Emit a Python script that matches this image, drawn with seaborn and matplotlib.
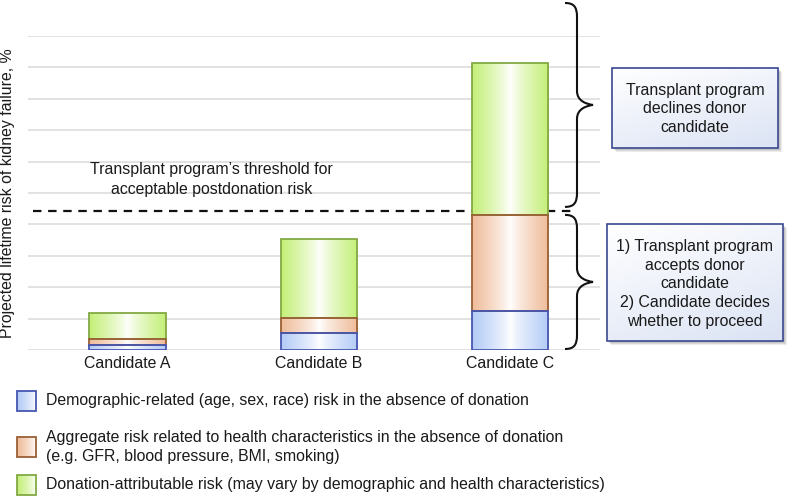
import numpy as np
import pandas as pd
import seaborn as sns
import matplotlib.pyplot as plt
from matplotlib.patches import Rectangle, PathPatch
from matplotlib.path import Path
from matplotlib.colors import to_rgb

# values (1 unit = one grid step)
candidates = ["Candidate A", "Candidate B", "Candidate C"]
demographic_risk = [0.15, 0.53, 1.24]
health_risk = [0.20, 0.48, 3.06]
donation_risk = [0.82, 2.52, 4.83]
threshold = 4.43

segment_labels = [
    "Demographic-related (age, sex, race) risk in the absence of donation",
    "Aggregate risk related to health characteristics in the absence of donation\n"
    "(e.g. GFR, blood pressure, BMI, smoking)",
    "Donation-attributable risk (may vary by demographic and health characteristics)",
]
fill_colors = ["#b3cbf7", "#efbc9a", "#c4ef78"]
edge_colors = ["#4656b0", "#9a5f35", "#84a944"]

ylabel = "Projected lifetime risk of kidney failure, %"
threshold_label = "Transplant program\u2019s threshold for\nacceptable postdonation risk"
decline_text = "Transplant program\ndeclines donor\ncandidate"
accept_text = "1) Transplant program\naccepts donor\ncandidate\n2) Candidate decides\nwhether to proceed"

sns.set_theme(style="whitegrid")
plt.rcParams['font.family'] = ['Liberation Sans', 'DejaVu Sans']
FS = 11.4

df = pd.DataFrame({
    'candidate': candidates,
    'demographic': demographic_risk,
    'health': health_risk,
    'donation': donation_risk,
})
cols = ['demographic', 'health', 'donation']
bottoms = np.cumsum(np.column_stack([np.zeros(len(df))] + [df[c] for c in cols[:-1]]), axis=1)


def side_gradient(color, n=256):
    u = np.linspace(0, 1, n)
    t = np.abs(2 * u - 1) ** 0.8
    c = np.array(to_rgb(color))
    return (1 - (1 - c)[None, :] * t[:, None])[None, :, :]


W, H = 790, 496
fig = plt.figure(figsize=(W / 100, H / 100), dpi=100)
ax = fig.add_axes([28 / W, 1 - 350 / H, 572 / W, 314 / H])

for i, col in enumerate(cols):
    n0 = len(ax.patches)
    sns.barplot(data=df, x='candidate', y=col, bottom=bottoms[:, i], color=fill_colors[i],
                width=0.4, errorbar=None, linewidth=1.3, edgecolor=edge_colors[i], ax=ax)
    for p in ax.patches[n0:]:
        x, y, w, h = p.get_x(), p.get_y(), p.get_width(), p.get_height()
        im = ax.imshow(side_gradient(fill_colors[i]), extent=[x, x + w, y, y + h],
                       aspect='auto', origin='lower', interpolation='bilinear', zorder=1.8)
        im.set_clip_path(p)
        p.set_facecolor('none')
        p.set_edgecolor(edge_colors[i])
        p.set_zorder(5 - i)

ax.axhline(threshold, xmin=0.009, xmax=0.956, color='#111111', lw=1.6,
           dashes=(3.8, 3.0), zorder=1.5)
ax.text(0.44, threshold + 1.0, threshold_label, ha='center', va='center',
        fontsize=FS, linespacing=1.38, color='#1a1a1a')

ax.set_xlim(-0.52, 2.47)
ax.set_ylim(0, 10)
ax.set_yticks(range(0, 11))
ax.set_yticklabels([])
ax.set_xlabel('')
ax.set_ylabel('')
ax.grid(axis='x', visible=False)
ax.grid(axis='y', color='#dadada', lw=1.1)
ax.set_axisbelow(True)
ax.tick_params(axis='both', length=0)
ax.tick_params(axis='x', labelsize=FS, pad=4, labelcolor='#1a1a1a')
for s in ax.spines.values():
    s.set_visible(False)

fig.text(8 / W, 1 - 193 / H, ylabel, rotation=90, ha='center', va='center',
         fontsize=FS, color='#1a1a1a')

# overlay in pixel coordinates for braces, boxes and the legend
ov = fig.add_axes([0, 0, 1, 1], zorder=5)
ov.axis('off')


def to_px(v):
    return H - ax.transData.transform((0, v))[1]


def brace(y_top, y_bot, x_line=577, x_tip=593, x_end=565):
    ym = (y_top + y_bot) / 2
    verts = [(x_end, y_top), (x_line - 3, y_top), (x_line, y_top + 4), (x_line, y_top + 14),
             (x_line, ym - 14),
             (x_line, ym - 4), (x_tip - 7, ym - 1), (x_tip, ym),
             (x_tip - 7, ym + 1), (x_line, ym + 4), (x_line, ym + 14),
             (x_line, y_bot - 14),
             (x_line, y_bot - 4), (x_line - 3, y_bot), (x_end, y_bot)]
    codes = [Path.MOVETO] + [Path.CURVE4] * 3 + [Path.LINETO] + [Path.CURVE4] * 6 + \
            [Path.LINETO] + [Path.CURVE4] * 3
    ov.add_patch(PathPatch(Path(verts, codes), facecolor='none', edgecolor='#111111', lw=1.5))
    return ym


yy, xx = np.mgrid[0:1:60j, 0:1:60j]
s = (0.35 * xx + 0.65 * yy)
box_c = np.array(to_rgb('#dbe3f4'))
box_grad = 1 - (1 - box_c)[None, None, :] * s[:, :, None]


def text_box(cx, cy, w, h, text):
    x0, y0 = cx - w / 2, cy - h / 2
    for off, a in [(4, 0.18), (3, 0.25), (2, 0.3)]:
        ov.add_patch(Rectangle((x0 + off, y0 + off), w, h, facecolor='#9a9a9a',
                               edgecolor='none', alpha=a, zorder=1))
    frame = Rectangle((x0, y0), w, h, facecolor='none', edgecolor='#3a4890', lw=1.2, zorder=3)
    ov.add_patch(frame)
    im = ov.imshow(box_grad, extent=(x0, x0 + w, y0 + h, y0), origin='upper',
                   aspect='auto', interpolation='bilinear', zorder=2)
    im.set_clip_path(frame)
    ov.text(cx, cy + 1, text, ha='center', va='center', fontsize=FS, linespacing=1.3,
            color='#1a1a1a', zorder=4)


ym_up = brace(to_px(10) - 33, to_px(threshold) - 4)
ym_lo = brace(to_px(threshold) + 4, to_px(0) - 1)
text_box(695, ym_up + 3, 166, 80, decline_text)
text_box(695, ym_lo + 1, 176, 117, accept_text)

# legend
leg_y = [401, 447, 485]
for lab, fc, ec, yc in zip(segment_labels, fill_colors, edge_colors, leg_y):
    u = np.linspace(0, 1, 64)
    c = np.array(to_rgb(fc))
    g = (1 - (1 - c)[None, :] * ((1 - u) ** 0.7)[:, None])[None, :, :]
    frame = Rectangle((17, yc - 10), 19, 20, facecolor='none', edgecolor=ec, lw=1.3, zorder=3)
    ov.add_patch(frame)
    im = ov.imshow(g, extent=(17, 36, yc + 10, yc - 10), origin='upper', aspect='auto',
                   interpolation='bilinear', zorder=2)
    im.set_clip_path(frame)
    ov.text(46, yc, lab, ha='left', va='center', fontsize=FS, linespacing=1.38, color='#1a1a1a')

ov.set_xlim(0, W)
ov.set_ylim(H, 0)

fig.savefig('out.png', dpi=100)
